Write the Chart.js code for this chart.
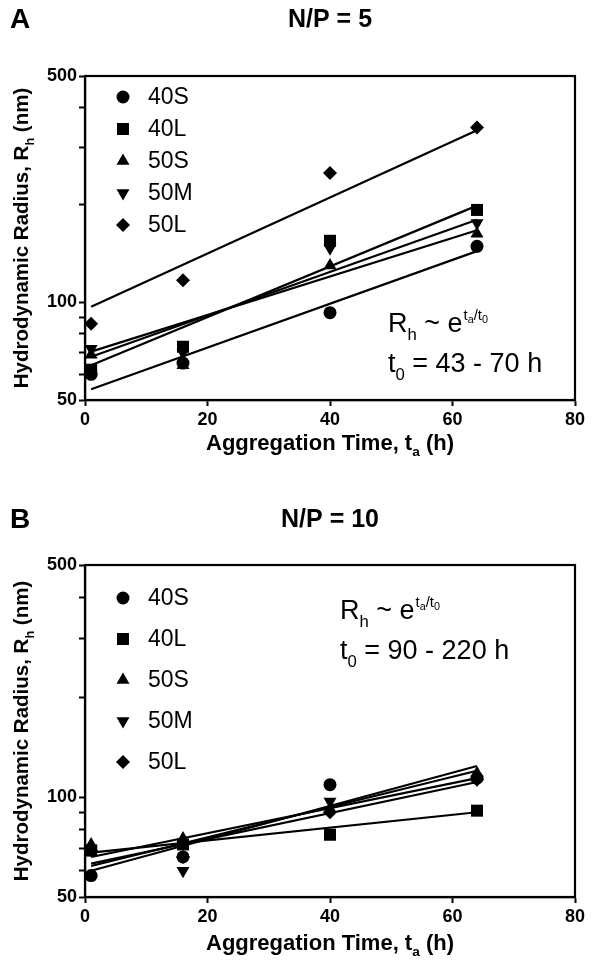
<!DOCTYPE html>
<html><head><meta charset="utf-8">
<script src="https://cdn.jsdelivr.net/npm/chart.js@4.4.0/dist/chart.umd.min.js"></script>
<style>
html,body{margin:0;padding:0;background:#fff;}
.panel{position:relative;width:600px;height:485px;}
canvas{display:block;}
</style></head><body>
<div class="panel"><canvas id="cA" width="600" height="485"></canvas></div>
<div class="panel"><canvas id="cB" width="600" height="485"></canvas></div>
<script>
// ---------- DATA ----------
const seriesNames = ['40S', '40L', '50S', '50M', '50L'];
const timesH = [1, 16, 40, 64];          // aggregation time (h)
const fitTimes = [1, 64];                // fitted line end points (h)
const xTicks = [0, 20, 40, 60, 80];
const yTicks = [50, 60, 70, 80, 90, 100, 200, 300, 400, 500];
const yLabeled = [50, 100, 500];

// Panel A, N/P = 5 : Rh (nm)
const a40S = [60, 65, 93, 149];
const a40L = [62, 73, 155, 193];
const a50S = [69, 64, 130, 163];
const a50M = [72, 70, 147, 176];
const a50L = [86, 117, 251, 347];
// Panel A fitted lines (value at 1 h, value at 64 h)
const aFit40S = [54, 144];
const aFit40L = [64, 199];
const aFit50S = [70.5, 167];
const aFit50M = [68, 180];
const aFit50L = [97, 340];

// Panel B, N/P = 10 : Rh (nm)
const b40S = [58, 66, 109, 114];
const b40L = [69, 72, 77, 91];
const b50S = [72, 75, 92, 118];
const b50M = [70, 60, 97, 113];
const b50L = [69, 66, 90, 113];
// Panel B fitted lines
const bFit40S = [60, 124];
const bFit40L = [68, 90];
const bFit50S = [66, 114];
const bFit50M = [62, 120];
const bFit50L = [63, 111];

// ---------- STYLE ----------
const FONT = "'Liberation Sans', Arial, sans-serif";
const markers = [
  {pointStyle: 'circle', rotation: 0, radius: 6.5},
  {pointStyle: 'rect', rotation: 0, radius: 8.5},
  {pointStyle: 'triangle', rotation: 0, radius: 7.5},
  {pointStyle: 'triangle', rotation: 180, radius: 7.5},
  {pointStyle: 'rectRot', rotation: 0, radius: 7}
];

function pts(xs, ys) { return xs.map((x, i) => ({x: x, y: ys[i]})); }

function richText(ctx, x, y, segs, size, weight, measureOnly) {
  let cx = x;
  for (const [t, k] of segs) {
    let s = size, dy = 0;
    if (k === 'sub') { s = size * 0.62; dy = size * 0.28; }
    else if (k === 'sup') { s = size * 0.62; dy = -size * 0.5; }
    ctx.font = weight + ' ' + s + 'px ' + FONT;
    if (!measureOnly) ctx.fillText(t, cx, y + dy);
    cx += ctx.measureText(t).width;
  }
  return cx - x;
}

function makePanel(id, cfg) {
  const datasets = [];
  cfg.series.forEach((ys, i) => {
    datasets.push({
      type: 'scatter', label: seriesNames[i], data: pts(timesH, ys),
      pointStyle: markers[i].pointStyle, rotation: markers[i].rotation,
      pointRadius: markers[i].radius, backgroundColor: '#000', borderColor: '#000',
      borderWidth: 0, showLine: false, order: 1
    });
  });
  cfg.fits.forEach((ys, i) => {
    datasets.push({
      type: 'line', label: seriesNames[i] + ' fit', data: pts(fitTimes, ys),
      borderColor: '#000', borderWidth: 2.2, pointRadius: 0, fill: false, order: 2
    });
  });

  const deco = {
    id: 'deco',
    afterDraw(chart) {
      const ctx = chart.ctx, ca = chart.chartArea;
      ctx.save();
      ctx.fillStyle = '#000'; ctx.strokeStyle = '#000';
      // frame
      ctx.lineWidth = 2.2;
      ctx.strokeRect(ca.left, ca.top, ca.right - ca.left, ca.bottom - ca.top);
      // panel letter and title
      ctx.textBaseline = 'middle';
      ctx.font = 'bold 28px ' + FONT; ctx.textAlign = 'left';
      ctx.fillText(cfg.letter, 10, cfg.headY);
      ctx.font = 'bold 25px ' + FONT; ctx.textAlign = 'center';
      ctx.fillText(cfg.title, (ca.left + ca.right) / 2, cfg.headY);
      // x title
      ctx.textBaseline = 'alphabetic'; ctx.textAlign = 'left';
      const xs = [['Aggregation Time, t', 'n'], ['a', 'sub'], [' (h)', 'n']];
      const wx = richText(ctx, 0, 0, xs, 22, 'bold', true);
      richText(ctx, (ca.left + ca.right) / 2 - wx / 2, ca.bottom + cfg.xTitleDy, xs, 22, 'bold');
      // y title
      const ys = [['Hydrodynamic Radius, R', 'n'], ['h', 'sub'], [' (nm)', 'n']];
      const wy = richText(ctx, 0, 0, ys, 20.5, 'bold', true);
      ctx.save();
      ctx.translate(28, (ca.top + ca.bottom) / 2);
      ctx.rotate(-Math.PI / 2);
      richText(ctx, -wy / 2, 0, ys, 20.5, 'bold');
      ctx.restore();
      // legend
      seriesNames.forEach((n, i) => {
        const ly = ca.top + cfg.legTop + i * cfg.legGap;
        Chart.helpers.drawPoint(ctx, {pointStyle: markers[i].pointStyle, rotation: markers[i].rotation,
          radius: markers[i].radius, borderWidth: 0}, ca.left + cfg.legX, ly);
        ctx.font = '23px ' + FONT; ctx.textBaseline = 'middle'; ctx.textAlign = 'left';
        ctx.fillText(n, ca.left + cfg.legX + 25, ly + 1);
      });
      // equation
      ctx.textBaseline = 'alphabetic'; ctx.textAlign = 'left';
      const E = 27;
      const ex = ca.left + cfg.eqX, ey = ca.top + cfg.eqY;
      const head = [['R', 'n'], ['h', 'sub'], [' ~ e', 'n']];
      const w1 = richText(ctx, ex, ey, head, E, 'normal');
      let sx = ex + w1 + 1;
      ctx.font = 'normal ' + (E * 0.55) + 'px ' + FONT;
      ctx.fillText('t', sx, ey - 12); sx += ctx.measureText('t').width;
      ctx.font = 'normal ' + (E * 0.4) + 'px ' + FONT;
      ctx.fillText('a', sx, ey - 9); sx += ctx.measureText('a').width;
      ctx.font = 'normal ' + (E * 0.55) + 'px ' + FONT;
      ctx.fillText('/t', sx, ey - 12); sx += ctx.measureText('/t').width;
      ctx.font = 'normal ' + (E * 0.4) + 'px ' + FONT;
      ctx.fillText('0', sx, ey - 9);
      richText(ctx, ex, ey + cfg.eqGap, [['t', 'n'], ['0', 'sub'], [' = ' + cfg.t0Text, 'n']], E, 'normal');
      ctx.restore();
    }
  };

  return new Chart(document.getElementById(id), {
    data: {datasets},
    options: {
      responsive: false, animation: false,
      layout: {padding: {left: 0, right: 25, top: cfg.padTop, bottom: 0}},
      plugins: {legend: {display: false}, tooltip: {enabled: false}},
      scales: {
        x: {
          type: 'linear', min: 0, max: 80,
          afterBuildTicks: s => { s.ticks = xTicks.map(v => ({value: v})); },
          afterFit: s => { s.height = cfg.xAxisH; },
          ticks: {color: '#000', font: {family: FONT, size: 18, weight: 'bold'}, padding: 3},
          grid: {drawOnChartArea: false, drawTicks: true, tickLength: 6, tickColor: '#000', tickWidth: 2},
          border: {color: '#000', width: 2.2}
        },
        y: {
          type: 'logarithmic', min: 50, max: 500,
          afterBuildTicks: s => { s.ticks = yTicks.map(v => ({value: v})); },
          afterFit: s => { s.width = 85; },
          ticks: {color: '#000', autoSkip: false, font: {family: FONT, size: 18, weight: 'bold'}, padding: 2,
            callback: v => yLabeled.includes(v) ? String(v) : ''},
          grid: {drawOnChartArea: false, drawTicks: true, tickLength: 6, tickColor: '#000', tickWidth: 2},
          border: {color: '#000', width: 2.2}
        }
      }
    },
    plugins: [deco]
  });
}

makePanel('cA', {
  letter: 'A', title: 'N/P = 5', headY: 20, padTop: 76, xAxisH: 85, xTitleDy: 50,
  series: [a40S, a40L, a50S, a50M, a50L],
  fits: [aFit40S, aFit40L, aFit50S, aFit50M, aFit50L],
  legX: 38, legTop: 21, legGap: 32,
  eqX: 303, eqY: 256, eqGap: 40, t0Text: '43 - 70 h'
});
makePanel('cB', {
  letter: 'B', title: 'N/P = 10', headY: 35, padTop: 80, xAxisH: 73, xTitleDy: 53,
  series: [b40S, b40L, b50S, b50M, b50L],
  fits: [bFit40S, bFit40L, bFit50S, bFit50M, bFit50L],
  legX: 38, legTop: 33, legGap: 41,
  eqX: 255, eqY: 54, eqGap: 40, t0Text: '90 - 220 h'
});
</script>
</body></html>
